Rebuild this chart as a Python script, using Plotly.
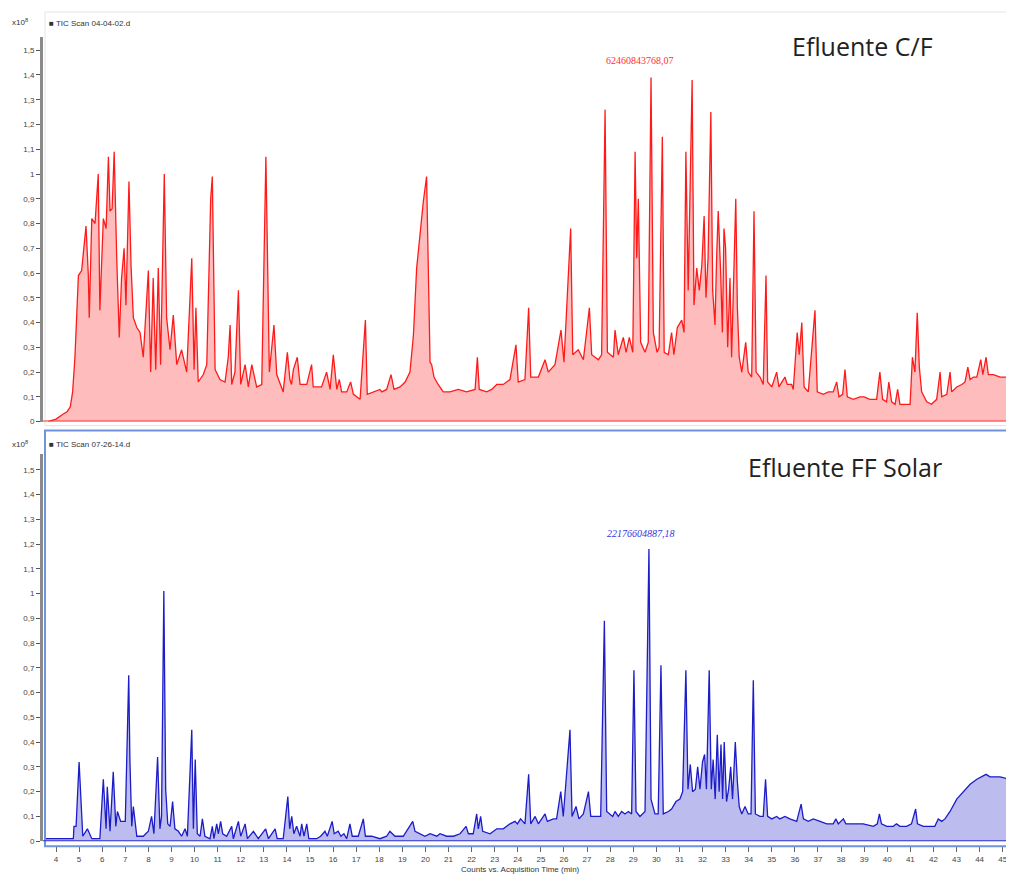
import plotly.graph_objects as go

# TIC counts in units of 1e8
red_time = [3.65, 4.0, 4.3, 4.48, 4.62, 4.72, 4.82, 4.97, 5.11, 5.3, 5.4, 5.44, 5.55, 5.69, 5.83, 5.9,
            6.05, 6.17, 6.27, 6.34, 6.43, 6.52, 6.63, 6.74, 6.84, 6.95, 7.03, 7.16, 7.25, 7.35, 7.5, 7.64,
            7.78, 8.0, 8.1, 8.21, 8.32, 8.43, 8.53, 8.69, 8.79, 8.94, 9.08, 9.23, 9.44, 9.66, 9.88, 9.98,
            10.06, 10.16, 10.38, 10.53, 10.7, 10.77, 10.89, 11.1, 11.32, 11.46, 11.54, 11.61, 11.75, 11.9,
            12.0, 12.19, 12.33, 12.48, 12.69, 12.91, 13.09, 13.24, 13.44, 13.56, 13.84, 14.02, 14.13, 14.2,
            14.28, 14.45, 14.57, 14.86, 15.07, 15.14, 15.5, 15.72, 15.87, 16.01, 16.16, 16.27, 16.37, 16.59,
            16.76, 16.88, 17.17, 17.4, 17.48, 17.74, 18.03, 18.11, 18.32, 18.51, 18.64, 18.9, 19.12, 19.33,
            19.48, 19.62, 19.8, 19.91, 20.05, 20.12, 20.2, 20.27, 20.37, 20.55, 20.77, 21.06, 21.42, 21.78,
            22.15, 22.25, 22.33, 22.65, 22.87, 23.09, 23.37, 23.66, 23.92, 24.02, 24.31, 24.47, 24.56, 24.89,
            25.18, 25.32, 25.61, 25.87, 26.0, 26.29, 26.38, 26.62, 26.84, 27.1, 27.2, 27.49, 27.63, 27.78,
            27.88, 28.14, 28.21, 28.35, 28.57, 28.69, 28.83, 28.98, 29.08, 29.15, 29.22, 29.32, 29.51, 29.65,
            29.77, 29.87, 30.03, 30.12, 30.26, 30.34, 30.52, 30.66, 30.76, 30.91, 31.1, 31.2, 31.28, 31.38,
            31.55, 31.63, 31.75, 31.86, 31.97, 32.07, 32.15, 32.24, 32.36, 32.44, 32.54, 32.61, 32.68, 32.79,
            32.86, 32.93, 33.0, 33.09, 33.19, 33.26, 33.33, 33.44, 33.51, 33.59, 33.7, 33.87, 33.98, 34.13,
            34.23, 34.32, 34.49, 34.63, 34.75, 34.82, 35.0, 35.21, 35.31, 35.57, 35.67, 35.86, 35.93, 36.1,
            36.19, 36.3, 36.4, 36.58, 36.87, 36.97, 37.23, 37.45, 37.66, 37.81, 37.91, 38.07, 38.17, 38.27,
            38.53, 38.82, 39.0, 39.25, 39.54, 39.68, 39.8, 39.97, 40.07, 40.19, 40.34, 40.45, 40.55, 40.77,
            40.99, 41.09, 41.2, 41.3, 41.39, 41.49, 41.71, 41.92, 42.14, 42.29, 42.36, 42.58, 42.72, 42.79,
            43.01, 43.23, 43.37, 43.49, 43.59, 43.73, 43.88, 44.05, 44.14, 44.28, 44.38, 44.6, 44.89, 45.18,
            45.47]
red_counts = [0.0, 0.01, 0.03, 0.04, 0.06, 0.12, 0.26, 0.59, 0.61, 0.79, 0.59, 0.42, 0.82, 0.80, 1.0, 0.45,
              0.82, 0.78, 1.07, 0.85, 0.86, 1.09, 0.66, 0.34, 0.58, 0.70, 0.47, 0.97, 0.63, 0.42, 0.38, 0.36,
              0.26, 0.61, 0.20, 0.58, 0.21, 0.62, 0.23, 1.0, 0.42, 0.29, 0.43, 0.23, 0.29, 0.20, 0.66, 0.21,
              0.46, 0.16, 0.19, 0.23, 0.9, 0.99, 0.21, 0.17, 0.16, 0.26, 0.39, 0.15, 0.20, 0.53,
              0.15, 0.23, 0.14, 0.23, 0.14, 0.15, 1.07, 0.20, 0.39, 0.19, 0.12, 0.28, 0.17, 0.15,
              0.21, 0.26, 0.15, 0.15, 0.23, 0.14, 0.14, 0.20, 0.13, 0.27, 0.13, 0.17, 0.12, 0.12,
              0.16, 0.11, 0.09, 0.41, 0.11, 0.12, 0.13, 0.12, 0.13, 0.19, 0.13, 0.14, 0.16, 0.20,
              0.35, 0.62, 0.79, 0.89, 0.99, 0.65, 0.24, 0.23, 0.18, 0.15, 0.12, 0.12, 0.13, 0.12,
              0.13, 0.26, 0.13, 0.12, 0.13, 0.15, 0.15, 0.17, 0.31, 0.16, 0.17, 0.46, 0.18, 0.18,
              0.25, 0.20, 0.23, 0.37, 0.24, 0.78, 0.27, 0.29, 0.25, 0.46, 0.27, 0.25, 0.27, 1.26,
              0.28, 0.26, 0.37, 0.27, 0.34, 0.28, 0.34, 0.28, 1.09, 0.66, 0.90, 0.32, 0.28, 0.32,
              1.39, 0.36, 0.28, 0.30, 1.15, 0.28, 0.27, 0.36, 0.27, 0.38, 0.41, 0.36, 1.09, 0.53,
              1.38, 0.47, 0.62, 0.53, 0.63, 0.83, 0.50, 0.66, 1.25, 0.53, 0.39, 0.66, 0.85, 0.59,
              0.36, 0.78, 0.70, 0.30, 0.58, 0.26, 0.53, 0.90, 0.46, 0.26, 0.20, 0.32, 0.20, 0.18,
              0.85, 0.20, 0.18, 0.15, 0.59, 0.16, 0.14, 0.20, 0.14, 0.18, 0.15, 0.15, 0.13, 0.36,
              0.27, 0.40, 0.14, 0.12, 0.45, 0.12, 0.11, 0.12, 0.12, 0.16, 0.10, 0.11, 0.21, 0.10,
              0.09, 0.10, 0.10, 0.09, 0.09, 0.20, 0.09, 0.08, 0.16, 0.08, 0.07, 0.13, 0.07, 0.07,
              0.07, 0.26, 0.20, 0.44, 0.22, 0.12, 0.08, 0.07, 0.09, 0.20, 0.10, 0.11, 0.20, 0.12,
              0.14, 0.15, 0.16, 0.22, 0.17, 0.18, 0.18, 0.25, 0.19, 0.26, 0.19, 0.19, 0.18, 0.18,
              0.17]

blue_time = [3.55, 4.75, 4.78, 4.87, 5.0, 5.16, 5.36, 5.55, 5.9, 6.05, 6.17, 6.22, 6.34, 6.48, 6.59, 6.66,
             6.8, 7.0, 7.15, 7.2, 7.28, 7.35, 7.5, 7.78, 8.0, 8.14, 8.24, 8.4, 8.5, 8.57, 8.67, 8.75,
             8.84, 8.94, 9.05, 9.15, 9.3, 9.44, 9.59, 9.69, 9.88, 9.95, 10.03, 10.12, 10.24, 10.34, 10.45,
             10.67, 10.77, 10.84, 10.96, 11.03, 11.13, 11.22, 11.39, 11.61, 11.68, 11.9, 12.0, 12.19, 12.29,
             12.55, 12.76, 13.08, 13.2, 13.49, 13.58, 13.84, 14.04, 14.12, 14.21, 14.3, 14.42, 14.57, 14.64,
             14.74, 14.86, 14.95, 15.29, 15.46, 15.65, 15.75, 15.96, 16.05, 16.22, 16.34, 16.47, 16.59,
             16.73, 16.83, 17.09, 17.31, 17.4, 17.67, 18.03, 18.32, 18.46, 18.68, 19.04, 19.26, 19.45,
             19.55, 19.76, 19.98, 20.2, 20.49, 20.63, 20.92, 21.21, 21.5, 21.76, 21.86, 22.07, 22.22,
             22.29, 22.39, 22.48, 22.8, 23.09, 23.37, 23.66, 23.88, 23.98, 24.12, 24.31, 24.47, 24.56,
             24.75, 24.89, 25.18, 25.28, 25.54, 25.68, 25.86, 25.97, 26.26, 26.35, 26.52, 26.65, 26.84,
             27.06, 27.16, 27.42, 27.59, 27.75, 27.85, 28.11, 28.21, 28.35, 28.5, 28.64, 28.79, 28.93,
             29.03, 29.12, 29.29, 29.51, 29.68, 29.77, 29.94, 30.08, 30.2, 30.3, 30.52, 30.66, 30.85,
             31.02, 31.14, 31.28, 31.37, 31.47, 31.57, 31.69, 31.79, 31.89, 32.0, 32.09, 32.17, 32.29,
             32.38, 32.46, 32.55, 32.64, 32.72, 32.8, 32.87, 32.94, 33.04, 33.13, 33.22, 33.3, 33.42,
             33.51, 33.59, 33.7, 33.84, 33.98, 34.1, 34.2, 34.29, 34.49, 34.63, 34.73, 34.82, 35.0,
             35.21, 35.35, 35.57, 35.78, 36.08, 36.27, 36.37, 36.58, 36.8, 37.09, 37.38, 37.66, 37.78,
             37.88, 38.1, 38.21, 38.53, 38.96, 39.4, 39.57, 39.66, 39.75, 39.98, 40.26, 40.4, 40.55,
             40.84, 41.05, 41.23, 41.31, 41.56, 41.85, 42.06, 42.21, 42.36, 42.5, 42.72, 43.01, 43.29,
             43.59, 43.88, 44.1, 44.28, 44.45, 44.89, 45.47]
blue_counts = [0.01, 0.01, 0.06, 0.06, 0.32, 0.02, 0.05, 0.01, 0.01, 0.25, 0.05, 0.22, 0.04, 0.28, 0.06, 0.12,
               0.08, 0.08, 0.67, 0.33, 0.06, 0.14, 0.02, 0.02, 0.04, 0.10, 0.03, 0.34, 0.05, 0.10, 1.01, 0.21,
               0.07, 0.06, 0.16, 0.05, 0.04, 0.02, 0.05, 0.02, 0.45, 0.05, 0.33, 0.03, 0.02, 0.09, 0.02,
               0.01, 0.06, 0.01, 0.07, 0.03, 0.08, 0.03, 0.02, 0.06, 0.01, 0.08, 0.02, 0.07, 0.01,
               0.04, 0.01, 0.05, 0.01, 0.05, 0.01, 0.01, 0.18, 0.05, 0.10, 0.03, 0.06, 0.02, 0.07,
               0.02, 0.07, 0.01, 0.01, 0.02, 0.04, 0.02, 0.08, 0.03, 0.04, 0.02, 0.03, 0.01,
               0.07, 0.02, 0.02, 0.09, 0.02, 0.02, 0.01, 0.02, 0.04, 0.02, 0.02, 0.05, 0.08,
               0.04, 0.03, 0.02, 0.03, 0.02, 0.03, 0.02, 0.02, 0.03, 0.06, 0.03, 0.03, 0.11,
               0.05, 0.10, 0.04, 0.03, 0.05, 0.05, 0.07, 0.08, 0.07, 0.09, 0.07, 0.27, 0.07,
               0.10, 0.07, 0.11, 0.08, 0.09, 0.09, 0.20, 0.10, 0.45, 0.10, 0.14, 0.09, 0.11,
               0.20, 0.10, 0.10, 0.10, 0.89, 0.12, 0.10, 0.12, 0.10, 0.12, 0.11, 0.12, 0.11,
               0.69, 0.12, 0.10, 0.12, 1.18, 0.17, 0.11, 0.11, 0.71, 0.11, 0.12, 0.13, 0.16,
               0.17, 0.20, 0.69, 0.21, 0.31, 0.20, 0.21, 0.30, 0.21, 0.32, 0.35, 0.21, 0.69,
               0.21, 0.33, 0.17, 0.43, 0.20, 0.39, 0.17, 0.40, 0.16, 0.21, 0.30, 0.17, 0.40,
               0.24, 0.14, 0.11, 0.14, 0.11, 0.11, 0.65, 0.11, 0.10, 0.10, 0.25, 0.10, 0.09,
               0.10, 0.09, 0.10, 0.09, 0.08, 0.15, 0.09, 0.08, 0.09, 0.08, 0.07, 0.07, 0.09,
               0.07, 0.09, 0.07, 0.07, 0.07, 0.06, 0.07, 0.11, 0.07, 0.06, 0.06, 0.07, 0.06,
               0.06, 0.07, 0.13, 0.07, 0.06, 0.06, 0.06, 0.09, 0.08, 0.09, 0.12, 0.17, 0.20,
               0.23, 0.25, 0.26, 0.27, 0.26, 0.26, 0.245]

y_ticks = [i / 10 for i in range(16)]
y_ticktext = ["0", "0,1", "0,2", "0,3", "0,4", "0,5", "0,6", "0,7", "0,8", "0,9",
              "1", "1,1", "1,2", "1,3", "1,4", "1,5"]
x_ticks = list(range(4, 46))

# the page body adds an 8px margin, so the figure is 8px smaller and all
# screen positions below are given in window pixels and shifted here
OFF = 8
W, H = 1014 - OFF, 879 - OFF
LEFT = 43 - OFF
PLOT_W = W - LEFT


def py(pixel):
    return 1 - (pixel - OFF) / H


def px(pixel):
    return (pixel - 43) / PLOT_W


fig = go.Figure()
fig.add_trace(go.Scatter(x=red_time, y=red_counts, mode="lines", fill="tozeroy",
                         line=dict(color="#ff1a1a", width=1.3), fillcolor="#ffbcbc",
                         xaxis="x", yaxis="y", hoverinfo="skip"))
fig.add_trace(go.Scatter(x=blue_time, y=blue_counts, mode="lines", fill="tozeroy",
                         line=dict(color="#1c1cc8", width=1.3), fillcolor="#bcbdee",
                         xaxis="x2", yaxis="y2", hoverinfo="skip"))

x_range = [3.437, 45.49]
tickfont = dict(family="Liberation Sans, Arial", size=8, color="#444")
yaxis_style = dict(tickvals=y_ticks, ticktext=y_ticktext, ticks="outside", ticklen=4,
                   tickcolor="#555", tickfont=tickfont, showgrid=False, zeroline=False,
                   showline=True, linecolor="#8a8a8a", linewidth=3)

fig.update_layout(
    width=W, height=H, paper_bgcolor="white", plot_bgcolor="white",
    margin=dict(l=LEFT, r=0, t=0, b=0), showlegend=False,
    xaxis=dict(domain=[0, 1], range=x_range, anchor="y", showticklabels=False,
               showgrid=False, zeroline=False, ticks=""),
    yaxis=dict(domain=[py(424), py(37)], range=[0, 1.554], anchor="x", **yaxis_style),
    xaxis2=dict(domain=[0, 1], range=x_range, anchor="free", position=py(851),
                tickvals=x_ticks, ticks="outside", ticklen=5, tickcolor="#666",
                tickfont=tickfont, showgrid=False, zeroline=False, showline=False),
    yaxis2=dict(domain=[py(846), py(457)], range=[0, 1.562], anchor="x2", **yaxis_style),
)

shapes = [
    # top pane frame and baseline
    dict(type="rect", xref="paper", yref="paper", x0=px(45), x1=1, y0=py(428), y1=py(12),
         line=dict(color="#e4e4e4", width=1)),
    dict(type="line", xref="paper", yref="y", x0=0, x1=1, y0=0, y1=0,
         line=dict(color="#ff3030", width=2)),
    # bottom (selected) pane frame and baseline
    dict(type="rect", xref="paper", yref="paper", x0=px(45), x1=1.01, y0=py(851), y1=py(433),
         line=dict(color="#6f93dc", width=2)),
    dict(type="line", xref="paper", yref="y2", x0=0, x1=1, y0=0, y1=0,
         line=dict(color="#3030d0", width=2)),
]
fig.update_layout(shapes=shapes)

small = dict(family="Liberation Sans, Arial", size=8, color="#333")
title_font = dict(family="Open Sans, Noto Sans", size=25, color="#222")
notes = [
    dict(x=px(10), y=py(22), text="x10<sup>8</sup>", xanchor="left", font=small),
    dict(x=px(47), y=py(24), text="■ TIC Scan 04-04-02.d", xanchor="left", font=small),
    dict(x=px(10), y=py(447), text="x10<sup>8</sup>", xanchor="left", font=small),
    dict(x=px(47), y=py(447), text="■ TIC Scan 07-26-14.d", xanchor="left", font=small),
    dict(x=px(862), y=py(46), text="Efluente C/F", xanchor="center", font=title_font),
    dict(x=px(845), y=py(470), text="Efluente FF Solar", xanchor="center", font=title_font),
    dict(x=px(640), y=py(61), text="62460843768,07", xanchor="center",
         font=dict(family="Liberation Serif", size=10, color="#ff3030")),
    dict(x=px(641), y=py(537), text="<i>22176604887,18</i>", xanchor="center",
         font=dict(family="Liberation Serif", size=10, color="#3535e0")),
    dict(x=px(520), y=py(874), text="Counts vs. Acquisition Time (min)",
         xanchor="center", font=small),
]
for n in notes:
    fig.add_annotation(xref="paper", yref="paper", yanchor="middle", showarrow=False, **n)

fig.write_html("out.html")
